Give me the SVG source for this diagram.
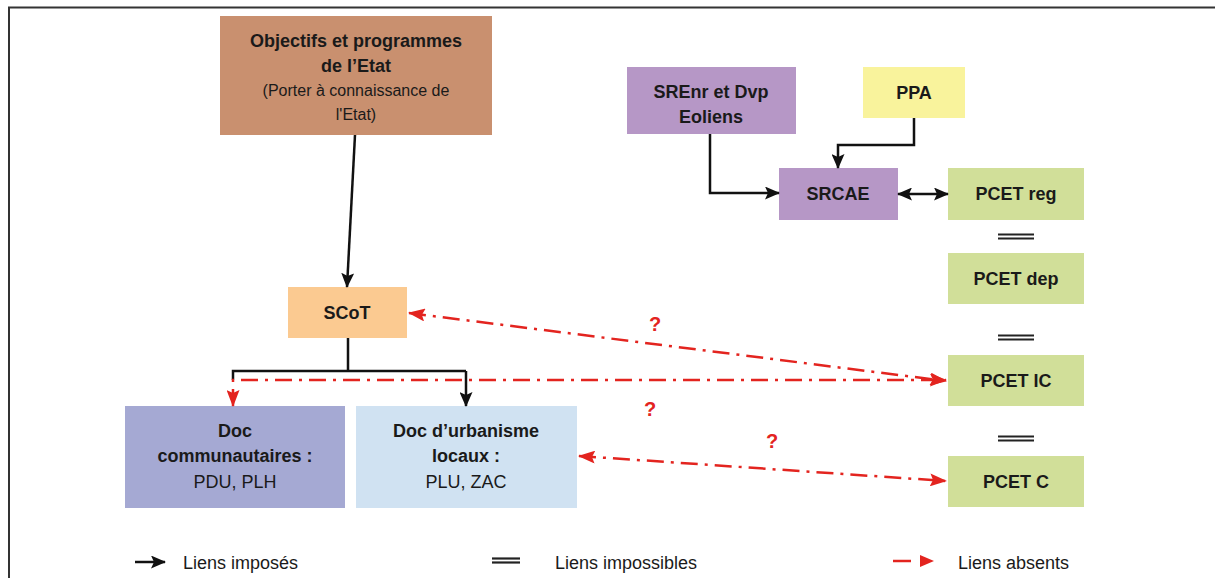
<svg xmlns="http://www.w3.org/2000/svg" width="1215" height="578" viewBox="0 0 1215 578">
<defs>
<marker id="ab" markerUnits="userSpaceOnUse" markerWidth="15" markerHeight="13" refX="14" refY="6.5" orient="auto-start-reverse"><path d="M0,0 L15,6.5 L0,13 L3,6.5 Z" fill="#111"/></marker>
<marker id="ar" markerUnits="userSpaceOnUse" markerWidth="17" markerHeight="13" refX="16" refY="6.5" orient="auto-start-reverse"><path d="M0,0 L17,6.5 L0,13 L3,6.5 Z" fill="#e3241f"/></marker>
<style>
.t{font-family:"Liberation Sans",Arial,sans-serif;fill:#1a1a1a;text-anchor:middle}
.b{font-weight:bold;font-size:18px}
.r{font-size:16px}
.n{font-size:18px}
.lg{font-family:"Liberation Sans",Arial,sans-serif;font-size:18px;fill:#1a1a1a}
.q{font-family:"Liberation Sans",Arial,sans-serif;font-size:20px;font-weight:bold;fill:#e3241f;text-anchor:middle}
.k{stroke:#111;stroke-width:2.5;fill:none}
.red{stroke:#e3241f;stroke-width:2.5;fill:none;stroke-dasharray:17 7 3 7}
.eq{stroke:#222;stroke-width:2.2}
</style>
</defs>
<rect width="1215" height="578" fill="#fff"/>
<path d="M9,578 V7.5 H1215" stroke="#333" stroke-width="2" fill="none"/>

<g id="objectifs"><rect x="220" y="16" width="272" height="119" fill="#c9906f"/>
<text class="t b" x="356" y="47">Objectifs et programmes</text>
<text class="t b" x="356" y="72">de l’Etat</text>
<text class="t r" x="356" y="96">(Porter à connaissance de</text>
<text class="t r" x="356" y="120">l'Etat)</text></g>

<g id="srenr"><rect x="627" y="67" width="169" height="67" fill="#b697c6"/>
<text class="t b" x="711" y="98">SREnr et Dvp</text>
<text class="t b" x="711" y="123">Eoliens</text></g>

<g id="ppa"><rect x="863" y="67" width="102" height="51" fill="#f9f39c"/>
<text class="t b" x="914" y="99">PPA</text></g>

<g id="srcae"><rect x="779" y="168" width="119" height="52" fill="#b697c6"/>
<text class="t b" x="838" y="200">SRCAE</text></g>

<g id="pcet-reg"><rect x="948" y="168" width="136" height="52" fill="#d1df99"/>
<text class="t b" x="1016" y="200">PCET reg</text></g>

<g id="pcet-dep"><rect x="948" y="253" width="136" height="51" fill="#d1df99"/>
<text class="t b" x="1016" y="285">PCET dep</text></g>

<g id="pcet-ic"><rect x="948" y="355" width="136" height="51" fill="#d1df99"/>
<text class="t b" x="1016" y="387">PCET IC</text></g>

<g id="pcet-c"><rect x="948" y="456" width="136" height="51" fill="#d1df99"/>
<text class="t b" x="1016" y="488">PCET C</text></g>

<g id="scot"><rect x="288" y="287" width="119" height="51" fill="#fbca91"/>
<text class="t b" x="347" y="319">SCoT</text></g>

<g id="doc-comm"><rect x="125" y="406" width="220" height="102" fill="#a5a9d3"/>
<text class="t b" x="235" y="437">Doc</text>
<text class="t b" x="235" y="462">communautaires :</text>
<text class="t n" x="235" y="488">PDU, PLH</text></g>

<g id="doc-urb"><rect x="356" y="406" width="221" height="102" fill="#d0e2f2"/>
<text class="t b" x="466" y="437">Doc d’urbanisme</text>
<text class="t b" x="466" y="462">locaux :</text>
<text class="t n" x="466" y="488">PLU, ZAC</text></g>

<g id="connectors">
<path class="k" d="M355,135 L347,287" marker-end="url(#ab)"/>
<path class="k" d="M710,134 V193 H779" marker-end="url(#ab)"/>
<path class="k" d="M914,118 V145 H838 V168" marker-end="url(#ab)"/>
<path class="k" d="M898,194 H948" marker-start="url(#ab)" marker-end="url(#ab)"/>
<path class="k" d="M348,338 V371 M233,380 V371 H466"/>
<path class="k" d="M466,371 V406" marker-end="url(#ab)"/>
<line class="eq" x1="998" y1="234.5" x2="1034" y2="234.5"/><line class="eq" x1="998" y1="238.5" x2="1034" y2="238.5"/>
<line class="eq" x1="998" y1="335.5" x2="1034" y2="335.5"/><line class="eq" x1="998" y1="339.5" x2="1034" y2="339.5"/>
<line class="eq" x1="998" y1="436.5" x2="1034" y2="436.5"/><line class="eq" x1="998" y1="440.5" x2="1034" y2="440.5"/>
<path class="red" d="M409,313 L946,381" marker-start="url(#ar)" marker-end="url(#ar)"/>
<path class="red" d="M233,406 V380 H946" marker-start="url(#ar)" marker-end="url(#ar)"/>
<path class="red" d="M579,456 L946,481" marker-start="url(#ar)" marker-end="url(#ar)"/>
<text class="q" x="655" y="331">?</text>
<text class="q" x="650" y="416">?</text>
<text class="q" x="772" y="448">?</text>
</g>

<g id="legend">
<path class="k" d="M135,562 H165" marker-end="url(#ab)"/>
<text class="lg" x="183" y="569">Liens imposés</text>
<line class="eq" x1="492" y1="558.5" x2="520" y2="558.5"/><line class="eq" x1="492" y1="562.5" x2="520" y2="562.5"/>
<text class="lg" x="555" y="569">Liens impossibles</text>
<line x1="893" y1="561" x2="911" y2="561" stroke="#e3241f" stroke-width="2.5"/>
<path d="M920,555 L934,561 L920,567 Z" fill="#e3241f"/>
<text class="lg" x="958" y="569">Liens absents</text>
</g>
</svg>
